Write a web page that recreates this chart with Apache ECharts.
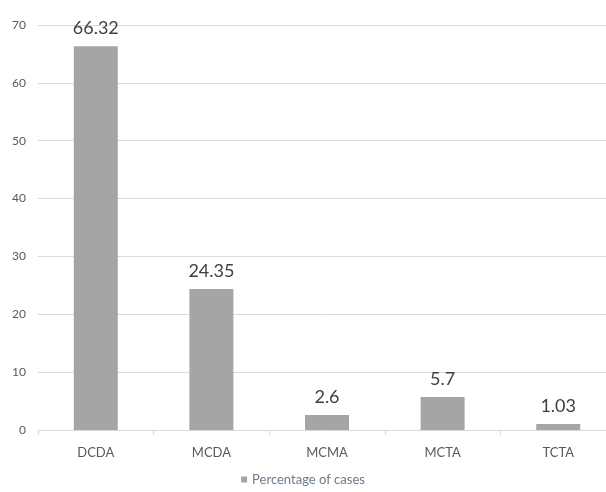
<!DOCTYPE html>
<html>
<head>
<meta charset="utf-8">
<style>html,body{margin:0;padding:0;background:#fff;}#c{width:606px;height:492px;}</style>
<script src="https://cdn.jsdelivr.net/npm/echarts@6/dist/echarts.min.js"></script>
</head>
<body>
<div id="c"></div>
<script>
var categories = ["DCDA", "MCDA", "MCMA", "MCTA", "TCTA"];
var percentages = [66.32, 24.35, 2.6, 5.7, 1.03];
var seriesName = "Percentage of cases";

var chart = echarts.init(document.getElementById('c'));
chart.setOption({
  backgroundColor: '#ffffff',
  animation: false,
  textStyle: { fontFamily: 'Lato' },
  grid: { left: 38, width: 578, top: 25, bottom: 62, containLabel: false, outerBoundsMode: 'none' },
  legend: {
    data: [seriesName],
    bottom: 1,
    left: 'center',
    icon: 'rect',
    itemWidth: 6,
    itemHeight: 6,
    itemGap: 5,
    textStyle: { fontSize: 13, color: '#6b7a8c', fontFamily: 'Lato' }
  },
  xAxis: {
    type: 'category',
    data: categories,
    axisLine: { show: true, lineStyle: { color: '#d9d9d9', width: 1 } },
    axisTick: { show: true, length: 5, lineStyle: { color: '#d9d9d9' } },
    axisLabel: { color: '#595959', fontSize: 13, margin: 16, fontFamily: 'Lato' }
  },
  yAxis: {
    type: 'value',
    min: 0,
    max: 70,
    interval: 10,
    axisLine: { show: false },
    axisTick: { show: false },
    splitLine: { lineStyle: { color: '#d9d9d9', width: 1 } },
    axisLabel: { color: '#595959', fontSize: 12, margin: 12, fontFamily: 'Lato' }
  },
  series: [{
    name: seriesName,
    type: 'bar',
    data: percentages,
    barWidth: 44,
    itemStyle: { color: '#a5a5a5' },
    label: {
      show: true,
      position: 'top',
      distance: 9,
      color: '#404040',
      fontSize: 18,
      fontFamily: 'Lato'
    }
  }]
});
</script>
</body>
</html>
